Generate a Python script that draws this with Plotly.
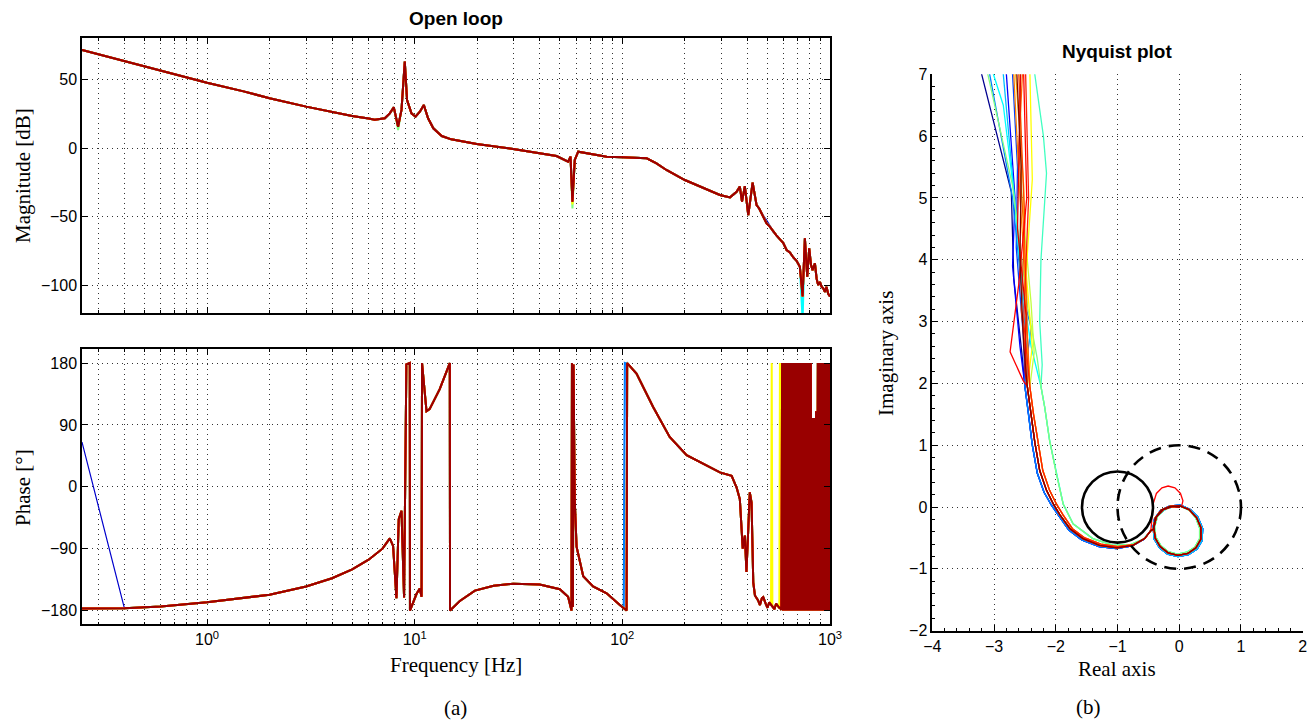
import math
import plotly.graph_objects as go

# ---------------- Bode data ----------------
mag_freq = [0.25, 0.4, 0.6, 1.0, 1.5, 2.0, 3.0, 4.0, 5.0, 6.0,
            6.42, 7.18, 7.59, 7.93, 8.32, 8.64, 8.96, 9.19, 9.65, 10.09,
            10.59, 11.07, 11.6, 12.3, 13.5, 15.0, 17.4, 19.9, 29.8, 40,
            48.2, 54.8, 56.3, 57.5, 59.0, 61.3, 69.8, 84, 100, 121,
            131, 146, 163, 200, 245, 295, 330, 355, 368, 377,
            389, 404, 424, 443, 456, 468, 482, 495, 512, 533,
            552, 574, 595, 618, 641, 666, 690, 716, 738, 757,
            777, 794, 810, 824, 846, 862, 877, 895, 911, 928,
            945, 962, 980, 1000]
mag_db = [71.3, 63.2, 56.3, 47.5, 41.2, 36.2, 30.1, 26.0, 23.3, 21.4,
          20.6, 21.6, 25.2, 29.6, 15.5, 27.7, 62.8, 34.9, 25.2, 22.8,
          26.4, 31.3, 21.6, 14.3, 8.7, 6.3, 4.6, 2.9, -0.7, -3.5,
          -5.8, -10.0, -6.3, -39.0, -8.7, -2.7, -4.4, -6.3, -6.8, -7.0,
          -7.5, -11.2, -16.0, -23.3, -29.3, -34.2, -35.9, -31.8, -28.1, -39.0,
          -27.7, -48.8, -25.2, -41.5, -44.0, -47.5, -50.5, -54.8, -57.0, -60.9,
          -63.5, -66.5, -69.0, -74.2, -76.0, -79.6, -82.0, -86.4, -108.0, -65.7,
          -93.6, -73.0, -85.0, -88.8, -83.9, -95.0, -99.7, -97.5, -100.9, -102.0,
          -104.6, -101.0, -106.0, -108.0]

ph_freq = [0.25, 0.4, 0.6, 1.0, 2.0, 3.0, 4.0, 5.0, 6.0, 7.0,
           7.59, 7.87, 8.17, 8.38, 8.64, 8.89, 9.12, 9.47, 9.49, 9.83,
           10.2, 10.58, 10.79, 10.85, 11.4, 11.8, 13.2, 14.76, 14.8, 16.5,
           19.5, 24, 29.8, 40, 50, 54.8, 56.9, 57.2, 57.8, 58.2,
           59.0, 60.2, 64.8, 72.3, 84, 97.3, 101.5, 102.8, 104.8, 105.5,
           117, 140.7, 169, 204, 245, 295, 336, 355, 368, 380,
           389, 396, 411, 419, 427, 435, 450, 460, 470, 477,
           490, 500, 510, 520, 524, 528, 540, 550, 563, 570,
           574, 578, 583,
           588, 594, 600, 606, 612, 618, 624, 630, 636, 643,
           649, 656, 662, 669, 675, 682, 689, 696, 703, 710,
           717, 724, 731, 738, 746, 753, 761, 768, 776, 784,
           792, 800, 808, 816, 824, 832, 840, 849, 857, 866,
           874, 883, 892, 901, 910, 919, 928, 938, 947, 957,
           966, 976, 986, 995, 1000]
ph_deg = [-177, -176.5, -174, -168, -157, -145, -133, -120, -106, -90,
          -75, -86, -162, -47, -35, -161, 178, 180, -180, -168,
          -156, -148, -160, 180, 110, 113, 142, 180, -180, -166,
          -151, -144, -141, -142, -149, -160, -180, 180, -175, 178,
          -20, -87, -130, -145, -155, -172, -177, -179, -180, 180,
          164.6, 116, 72.6, 46, 34, 21, 16, -1, -18, -90,
          -71, -124, -8, -23, -139, -158, -165, -172, -162, -160.5,
          -170, -176, -168, -171, -172, -173, -178, -170, -175, -176,
          -176, -177, -179,
          180, -180, 180, -180, 180, -180, 180, -180, 180, -180,
          180, -180, 180, -180, 180, -180, 180, -180, 180, -180,
          180, -180, 180, -180, 180, -180, 180, -180, 180, -180,
          180, -180, 180, -180, 100, -180, 100, -180, 110, -180,
          180, -180, 180, -180, 180, -180, 180, -180, 180, -180,
          180, -180, 180, -180, 180]

bode_colors = ['#0000CC', '#0080FF', '#00FFFF', '#80FF80', '#FFFF00', '#FF8000', '#FF0000', '#990000']
# per-series deviations from the common curve (frequency -> value)
mag_dev = [{495: -53.0}, {}, {738: -125}, {57.5: -44, 8.32: 13.0}, {57.5: -41}, {}, {}, {}]
ph_dev = [{0.25: 65, 102.8: 180, 104.8: 178}, {102.8: 180, 104.8: 179}, {}, {}, {524: 180, 574: 180}, {}, {}, {}]

bode_ticks = [1, 10, 100, 1000]
bode_ticktext = ['10<sup>0</sup>', '10<sup>1</sup>', '10<sup>2</sup>', '10<sup>3</sup>']
minor_freqs = [0.3, 0.4, 0.5, 0.6, 0.7, 0.8, 0.9, 2, 3, 4, 5, 6, 7, 8, 9,
               20, 30, 40, 50, 60, 70, 80, 90, 200, 300, 400, 500, 600, 700, 800, 900]
mag_ticks = [-100, -50, 0, 50]
ph_ticks = [-180, -90, 0, 90, 180]

# ---------------- Nyquist data ----------------
nyq_colors = ['#00008F', '#0000FF', '#0040FF', '#0080FF', '#00C0FF', '#00FFFF', '#40FFC0', '#80FF80', '#C0FF40',
              '#FFFF00', '#FFC000', '#FF8000', '#FF6000', '#FF4000', '#FF2000', '#FF0000', '#E00000', '#800000']
nyq_upper_re = [
    [-3.35, -3.20, -2.72, -2.68, -2.55],
    [-2.85, -2.80, -2.66, -2.70, -2.58],
    [-2.72, -2.70, -2.62, -2.64, -2.52],
    [-3.12, -3.07, -2.70, -2.55, -2.40, -2.48],
    [-2.88, -2.85, -2.65, -2.50, -2.45],
    [-3.05, -3.01, -2.85, -2.68, -2.55, -2.40],
    [-2.36, -2.34, -2.20, -2.15, -2.24, -2.26, -2.22],
    [-3.15, -3.10, -2.70, -2.45, -2.30],
    [-2.60, -2.58, -2.55, -2.40, -2.35],
    [-2.43, -2.42, -2.38, -2.48, -2.38],
    [-2.66, -2.65, -2.52, -2.50, -2.45],
    [-2.70, -2.68, -2.58, -2.47, -2.50],
    [-2.55, -2.54, -2.60, -2.50, -2.46],
    [-2.62, -2.60, -2.50, -2.56, -2.47],
    [-2.50, -2.49, -2.44, -2.52, -2.45],
    [-2.52, -2.52, -2.47, -2.60, -2.74, -2.53],
    [-2.58, -2.57, -2.62, -2.48, -2.50],
    [-2.64, -2.63, -2.56, -2.58, -2.52],
]
nyq_upper_im = [
    [7.5, 7.0, 5.1, 3.7, 2.5],
    [7.5, 7.0, 5.0, 3.9, 2.6],
    [7.5, 7.0, 5.5, 4.2, 2.7],
    [7.5, 7.0, 5.0, 3.5, 2.9, 2.3],
    [7.5, 7.0, 4.8, 3.0, 2.3],
    [7.5, 7.0, 6.5, 5.1, 3.6, 2.6],
    [7.5, 7.0, 6.0, 5.4, 4.0, 3.0, 2.3],
    [7.5, 7.0, 5.2, 3.2, 2.4],
    [7.5, 7.0, 5.0, 3.3, 2.5],
    [7.5, 7.0, 5.3, 3.8, 2.6],
    [7.5, 7.0, 5.2, 3.5, 2.4],
    [7.5, 7.0, 5.0, 3.4, 2.5],
    [7.5, 7.0, 5.8, 4.2, 2.8],
    [7.5, 7.0, 4.6, 3.2, 2.3],
    [7.5, 7.0, 5.0, 3.0, 2.2],
    [7.5, 7.0, 5.0, 3.6, 2.51, 2.05],
    [7.5, 7.0, 4.5, 3.1, 2.2],
    [7.5, 7.0, 5.5, 4.0, 2.6],
]
nyq_lower = ['blue', 'blue', 'blue', 'blue', 'warm', 'cool', 'cool', 'cool', 'warm2',
             'warm', 'warm2', 'warm', 'warm2', 'warm', 'warm2', 'warm', 'warm', 'warm']
nyq_loop = ['b', 'b', 'b', 'b', 'b', 'c', 'c', 'c', 'a',
            'a', 'a', 'a', 'a', 'a', 'a', 'top', 'a', 'a']

lower_re = {
    'warm': [-2.46, -2.40, -2.34, -2.26, -2.15, -2.04, -1.93, -1.77, -1.56, -1.29, -1.01, -0.75, -0.56, -0.46],
    'warm2': [-2.42, -2.36, -2.29, -2.21, -2.10, -1.99, -1.88, -1.73, -1.53, -1.27, -1.00, -0.74, -0.55, -0.46],
    'cool': [-2.24, -2.18, -2.10, -1.99, -1.88, -1.72, -1.40, -1.07, -0.80, -0.58, -0.46],
    'blue': [-2.50, -2.44, -2.38, -2.30, -2.19, -2.07, -1.95, -1.79, -1.58, -1.30, -1.02, -0.76, -0.57, -0.46],
}
lower_im = {
    'warm': [1.95, 1.50, 1.05, 0.59, 0.27, 0.05, -0.13, -0.35, -0.51, -0.62, -0.66, -0.62, -0.51, -0.38],
    'warm2': [1.95, 1.50, 1.05, 0.59, 0.27, 0.05, -0.13, -0.35, -0.50, -0.60, -0.64, -0.61, -0.50, -0.38],
    'cool': [1.95, 1.62, 1.08, 0.54, 0.05, -0.27, -0.51, -0.62, -0.61, -0.52, -0.38],
    'blue': [1.95, 1.50, 1.00, 0.55, 0.24, 0.03, -0.15, -0.37, -0.53, -0.64, -0.67, -0.63, -0.52, -0.38],
}
loop_re = {
    'a': [-0.42, -0.39, -0.29, -0.15, 0.01, 0.16, 0.28, 0.35, 0.35, 0.27, 0.14, -0.02, -0.18, -0.31, -0.39, -0.41, -0.37, -0.26, -0.11, 0.01],
    'b': [-0.43, -0.40, -0.30, -0.15, 0.02, 0.18, 0.30, 0.38, 0.37, 0.29, 0.15, -0.02, -0.19, -0.32, -0.41, -0.42, -0.36, -0.22, -0.06, 0.01],
    'c': [-0.41, -0.37, -0.27, -0.13, 0.02, 0.16, 0.27, 0.33, 0.33, 0.25, 0.12, -0.03, -0.18, -0.30, -0.38, -0.40, -0.35, -0.24, -0.09, 0.01],
    'top': [-0.44, -0.42, -0.37, -0.28, -0.18, -0.07, 0.02, 0.06, 0.04, 0.01, 0.16, 0.28, 0.35, 0.35, 0.27, 0.14,
            -0.02, -0.18, -0.31, -0.39, -0.41, -0.37, -0.26, -0.11, 0.01],
}
loop_im = {
    'a': [-0.36, -0.18, -0.05, 0.01, 0.02, -0.04, -0.17, -0.33, -0.52, -0.66, -0.75, -0.78, -0.74, -0.64, -0.50, -0.33, -0.16, -0.04, 0.01, 0.0],
    'b': [-0.37, -0.19, -0.05, 0.02, 0.03, -0.04, -0.16, -0.35, -0.54, -0.68, -0.77, -0.80, -0.76, -0.66, -0.51, -0.33, -0.14, -0.03, 0.02, 0.0],
    'c': [-0.35, -0.17, -0.05, 0.01, 0.01, -0.05, -0.18, -0.34, -0.51, -0.65, -0.73, -0.76, -0.72, -0.62, -0.48, -0.32, -0.15, -0.04, 0.01, 0.0],
    'top': [-0.20, 0.06, 0.22, 0.31, 0.34, 0.31, 0.22, 0.10, 0.02, 0.02, -0.04, -0.17, -0.33, -0.52, -0.66, -0.75,
            -0.78, -0.74, -0.64, -0.50, -0.33, -0.16, -0.04, 0.01, 0.0],
}

crit_circle = {'cx': -1.0, 'cy': 0.0, 'r': 0.575}   # solid circle around -1
unit_circle = {'cx': 0.0, 'cy': 0.0, 'r': 1.0}      # dashed unit circle

# ---------------- layout geometry ----------------
W, H = 1312, 723
def px_x(p):
    return p / W
def px_y(p):
    return 1 - p / H

bode_x = [px_x(82), px_x(830)]
mag_y = [px_y(313), px_y(38)]
ph_y = [px_y(624.3), px_y(349.3)]
nyq_x = [px_x(932.3), px_x(1302.7)]
nyq_y = [px_y(630.7), px_y(74.3)]

TICKFONT = dict(family='Liberation Sans, Arial, sans-serif', size=16, color='black')
SERIF = 'Liberation Serif, Times New Roman, serif'
GRID = dict(showgrid=True, gridcolor='#333333', gridwidth=1, griddash='1px,4px', automargin=False)

fig = go.Figure()

def with_dev(base_x, base_y, dev):
    ys = list(base_y)
    for f, v in dev.items():
        ys[base_x.index(f)] = v
    return ys

for c, md, pd_ in zip(bode_colors, mag_dev, ph_dev):
    fig.add_trace(go.Scatter(x=mag_freq, y=with_dev(mag_freq, mag_db, md), mode='lines',
                             line=dict(color=c, width=2), xaxis='x', yaxis='y',
                             showlegend=False, hoverinfo='skip'))
    fig.add_trace(go.Scatter(x=ph_freq, y=with_dev(ph_freq, ph_deg, pd_), mode='lines',
                             line=dict(color=c, width=(1.2 if c == '#0000CC' else 2)), xaxis='x2', yaxis='y2',
                             showlegend=False, hoverinfo='skip'))

for i, c in enumerate(nyq_colors):
    lw = nyq_lower[i]
    lp = nyq_loop[i]
    xs = nyq_upper_re[i] + lower_re[lw] + loop_re[lp]
    ys = nyq_upper_im[i] + lower_im[lw] + loop_im[lp]
    fig.add_trace(go.Scatter(x=xs, y=ys, mode='lines', line=dict(color=c, width=1.3),
                             xaxis='x3', yaxis='y3', showlegend=False, hoverinfo='skip'))

shapes = []
for circ, dash in [(crit_circle, 'solid'), (unit_circle, '12px,8px')]:
    shapes.append(dict(type='circle', xref='x3', yref='y3',
                       x0=circ['cx'] - circ['r'], x1=circ['cx'] + circ['r'],
                       y0=circ['cy'] - circ['r'], y1=circ['cy'] + circ['r'],
                       line=dict(color='black', width=2.6, dash=dash)))

log_axis = dict(type='log', range=[math.log10(0.25), 3], domain=bode_x,
                showline=True, linecolor='black', linewidth=1.5, mirror='ticks',
                ticks='inside', ticklen=6, tickcolor='black', tickwidth=1,
                tickmode='array', tickvals=bode_ticks, ticktext=bode_ticktext,
                tickfont=TICKFONT, zeroline=False,
                minor=dict(tickmode='array', tickvals=minor_freqs, ticks='inside', ticklen=3,
                           tickcolor='black', showgrid=True, gridcolor='#333333', griddash='1px,4px', gridwidth=1),
                **GRID)

fig.update_layout(
    template='none',
    width=W, height=H, margin=dict(l=0, r=0, t=0, b=0, pad=0, autoexpand=False),
    paper_bgcolor='white', plot_bgcolor='white', showlegend=False,
    shapes=shapes,
    xaxis=dict(log_axis, anchor='y', showticklabels=False),
    xaxis2=dict(log_axis, anchor='y2', matches='x'),
    yaxis=dict(range=[-120, 80], domain=mag_y, anchor='x', tickmode='array', tickvals=mag_ticks,
               showline=True, linecolor='black', linewidth=1.5, mirror='ticks', ticks='inside', ticklen=6,
               tickcolor='black', tickfont=TICKFONT, zeroline=False, **GRID),
    yaxis2=dict(range=[-200, 200], domain=ph_y, anchor='x2', tickmode='array', tickvals=ph_ticks,
                showline=True, linecolor='black', linewidth=1.5, mirror='ticks', ticks='inside', ticklen=6,
                tickcolor='black', tickfont=TICKFONT, zeroline=False, **GRID),
    xaxis3=dict(range=[-4, 2], domain=nyq_x, anchor='y3', dtick=1, tick0=0,
                showline=True, linecolor='black', linewidth=1.5, ticks='inside', ticklen=6,
                tickcolor='black', tickfont=TICKFONT, zeroline=False,
                minor=dict(dtick=0.2, ticks='inside', ticklen=3, tickcolor='black'), **GRID),
    yaxis3=dict(range=[-2, 7], domain=nyq_y, anchor='x3', dtick=1, tick0=0,
                showline=True, linecolor='black', linewidth=1.5, ticks='inside', ticklen=6,
                tickcolor='black', tickfont=TICKFONT, zeroline=False,
                minor=dict(dtick=0.2, ticks='inside', ticklen=3, tickcolor='black'), **GRID),
)

def ann(text, x, y, size, family, bold=False, angle=0):
    fig.add_annotation(text=('<b>%s</b>' % text) if bold else text, xref='paper', yref='paper',
                       x=px_x(x), y=px_y(y), xanchor='center', yanchor='middle', showarrow=False,
                       textangle=angle, font=dict(family=family, size=size, color='black'))

ann('Open loop', 456, 18, 19, 'Liberation Sans, Arial, sans-serif', bold=True)
ann('Nyquist plot', 1117, 52, 19, 'Liberation Sans, Arial, sans-serif', bold=True)
ann('Magnitude [dB]', 23, 176, 21, SERIF, angle=-90)
ann('Phase [°]', 23, 488, 21, SERIF, angle=-90)
ann('Frequency [Hz]', 456, 665, 21, SERIF)
ann('(a)', 456, 708, 21, SERIF)
ann('Real axis', 1117, 669, 21, SERIF)
ann('(b)', 1088, 707, 21, SERIF)
ann('Imaginary axis', 886, 354, 21, SERIF, angle=-90)

fig.write_html('out.html', config={'displayModeBar': False},
               post_script="document.body.style.margin='0';document.body.style.overflow='hidden';")
